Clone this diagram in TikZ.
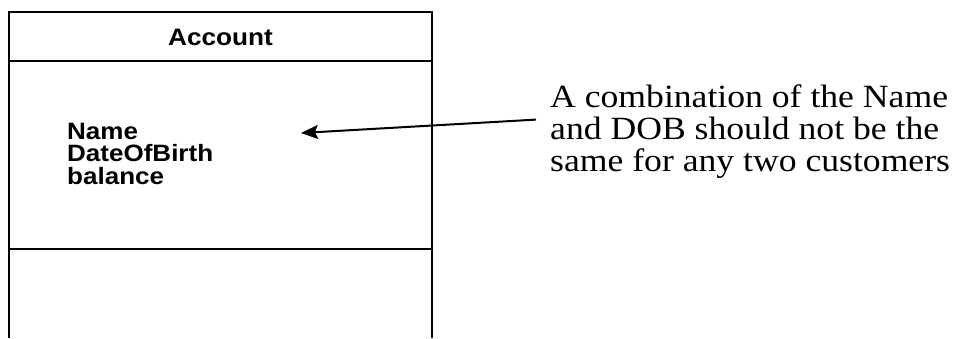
\documentclass[tikz,border=0pt]{standalone}
\usepackage{fontspec}
\setmainfont[FakeStretch=1.1]{Liberation Serif}
\newfontfamily\umlsans[FakeStretch=1.1]{Liberation Sans}
\usetikzlibrary{arrows.meta}
\tikzset{
  claseLinea/.style={line width=2.6pt, black},
  claseDivisor/.style={line width=2pt, black},
  claseNombre/.style={font=\umlsans\bfseries\fontsize{23.8}{26}\selectfont, inner sep=0pt},
  atributos/.style={font=\umlsans\bfseries\fontsize{23.65}{22.5}\selectfont,
    align=left, inner sep=0pt},
  nota/.style={font=\fontsize{32.4}{32}\selectfont, align=left, inner sep=0pt},
  flechaNota/.style={-{Stealth[length=17pt,width=14pt,inset=3pt]}, line width=2pt, black},
}

\begin{document}
\begin{tikzpicture}[x=1pt,y=-1pt]
    \useasboundingbox (0,0) rectangle (959,338);
    % class box, running off the bottom edge
    \draw[claseLinea] (9,338) -- (9,12) -- (432,12) -- (432,338);
    \draw[claseLinea] (9,61) -- (432,61);
    \draw[claseDivisor] (9,249) -- (432,249);

    \node[claseNombre] (cuenta) at (220.5,37) {Account};
    \node[atributos, anchor=north west] (atribs) at (67,123) {Name\\DateOfBirth\\balance};
    \node[nota, anchor=north west] (nota) at (550,84)
          {A combination of the Name\\and DOB should not be the\\same for any two customers};
    \coordinate (punta) at (301,133);

    \draw[flechaNota] ([xshift=-14pt,yshift=11.5pt]nota.west) -- (punta);
  \end{tikzpicture}
\end{document}
